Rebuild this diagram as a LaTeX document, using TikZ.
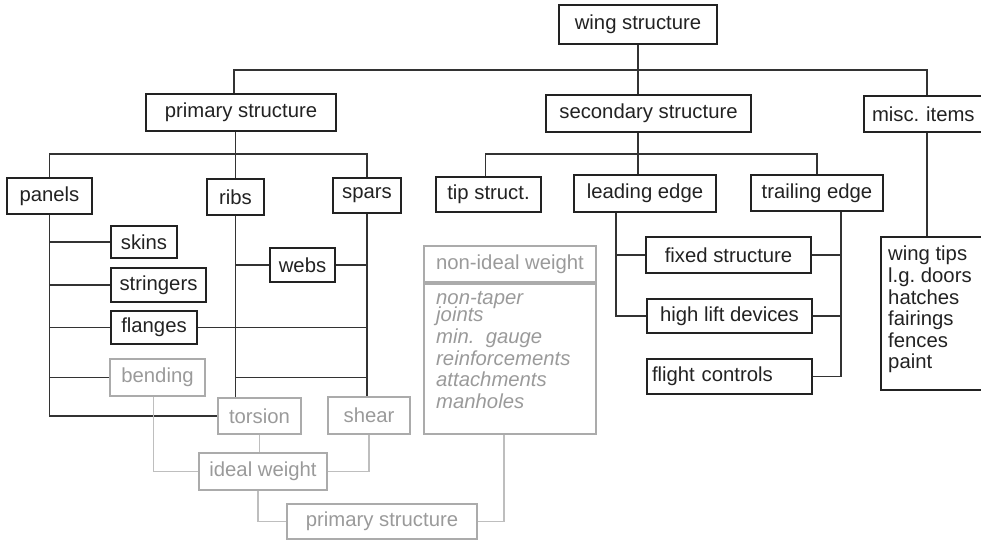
\documentclass[tikz,border=0pt]{standalone}
\usepackage{fontspec}
\setmainfont{Liberation Sans}
\usepackage{xcolor}
\usepackage{tikz}
\usetikzlibrary{positioning}
\definecolor{inkdark}{HTML}{222222}
\definecolor{linkdark}{HTML}{333333}
\definecolor{softgray}{HTML}{ABABAB}
\definecolor{softtext}{HTML}{9A9A9A}
\definecolor{softline}{HTML}{BEBEBE}
\frenchspacing

\tikzset{
    box/.style={draw=inkdark, line width=2pt, inner sep=0pt, minimum height=36pt, text=inkdark},
    softbox/.style={draw=softgray, line width=2pt, inner sep=0pt, minimum height=36pt, text=softtext},
    link/.style={draw=linkdark, line width=1.2pt},
    softlink/.style={draw=softline, line width=1.5pt},
}

\begin{document}
\begin{tikzpicture}[x=1pt, y=-1pt, font=\fontsize{20.3}{21.6}\selectfont]
    \useasboundingbox (0,0) rectangle (981,540);

    % upper tree
    \node[box, minimum width=158pt, minimum height=39pt] (wing) at (638,24.5) {wing structure};
    \node[box, minimum width=190pt, minimum height=37pt] (prim) at (241,112.5) {primary structure};
    \node[box, minimum width=205pt, minimum height=37pt] (sec) at (648.5,113.5) {secondary structure};
    \node[box, anchor=west, minimum width=140pt, text width=124pt, align=left] (misc) at (863,114) {misc. items};

    \node[box, minimum width=85pt] (panels) at (49.5,196) {panels};
    \node[box, minimum width=57pt] (ribs) at (235.5,197) {ribs};
    \node[box, minimum width=68pt, minimum height=35pt] (spars) at (367,195.5) {spars};
    \node[box, minimum width=105pt, minimum height=35pt] (tip) at (488.5,194.5) {tip struct.};
    \node[box, minimum width=142pt, minimum height=37pt] (lead) at (645,193.5) {leading edge};
    \node[box, minimum width=132pt] (trail) at (817,193) {trailing edge};

    \node[box, minimum width=66pt, minimum height=32pt] (skins) at (144,242) {skins};
    \node[box, minimum width=95pt, minimum height=34pt] (stringers) at (158.5,285) {stringers};
    \node[box, minimum width=86pt, minimum height=33pt] (flanges) at (154,327.5) {flanges};
    \node[box, minimum width=65pt, minimum height=34pt] (webs) at (302.5,265) {webs};

    \node[box, minimum width=165pt] (fixed) at (728.5,255) {fixed structure};
    \node[box, minimum width=165pt, minimum height=34pt] (hilift) at (729.5,316) {high lift devices};
    \node[box, minimum width=165pt, minimum height=35pt, text width=155pt, align=left] (flight) at (729.5,376.5) {flight controls};

    \node[box, anchor=north west, minimum width=140pt, minimum height=153pt] (items) at (880,236) {};
    \node[anchor=north west, inner sep=0pt, align=left, text=inkdark] (itemlist) at ([xshift=8pt, yshift=-10pt]items.north west)
        {wing tips\\l.g. doors\\hatches\\fairings\\fences\\paint};

    % weight estimate
    \node[softbox, minimum width=95pt, minimum height=37pt] (bending) at (157.5,377.5) {bending};
    \node[softbox, minimum width=83pt] (torsion) at (259.5,416) {torsion};
    \node[softbox, minimum width=82pt, minimum height=37pt] (shear) at (369,415.5) {shear};
    \node[softbox, minimum width=128pt, minimum height=37pt] (ideal) at (263,471.5) {ideal weight};
    \node[softbox, minimum width=190pt, minimum height=35pt] (primwt) at (382,521.5) {primary structure};

    \node[softbox, minimum width=172pt] (nonhead) at (510,264) {non-ideal weight};
    \node[softbox, below=0pt of nonhead, minimum width=172pt, minimum height=150pt] (nonbody) {};
    \node[anchor=north west, inner sep=0pt, align=left, text=softtext, font=\fontsize{20.3}{21.6}\selectfont\itshape] (nonlist)
        at ([xshift=13pt, yshift=-8pt]nonbody.north west)
        {non-taper\\[-4pt]joints\\min.~~gauge\\reinforcements\\attachments\\manholes};

    \coordinate (bus top) at (0,70);
    \coordinate (bus mid) at (0,154);
    \coordinate (misc drop) at (927,0);
    \coordinate (lead drop) at ([xshift=-29pt]lead.south);
    \coordinate (trail drop) at ([xshift=24pt]trail.south);

    \draw[link] (wing.south) -- (sec.north -| wing.south);
    \draw[link] ([xshift=-7pt]prim.north) |- (bus top -| misc drop) -- (misc.north -| misc drop);
    \draw[link] (misc.south -| misc drop) -- (items.north -| misc drop);
    \draw[link] (sec.south -| wing.south) -- (lead.north -| wing.south);
    \draw[link] ([xshift=-3pt]tip.north) |- (bus mid -| trail.north) -- (trail.north);
    \draw[link] (prim.south -| ribs.north) -- (ribs.north);
    \draw[link] (panels.north) |- (bus mid -| spars.north) -- (spars.north);

    \draw[link] (panels.south) |- (torsion.west);
    \foreach \leaf in {skins, stringers, flanges, bending}
        \draw[link] (\leaf.west) -- (\leaf.west -| panels.south);
    \draw[link] (ribs.south) -- (ribs.south |- torsion.north);
    \draw[link] (spars.south) -- (spars.south |- shear.north);
    \draw[link] (webs.west) -- (webs.west -| ribs.south);
    \foreach \leaf in {webs, flanges}
        \draw[link] (\leaf.east) -- (\leaf.east -| spars.south);
    \draw[link] (bending.east -| ribs.south) -- (bending.east -| spars.south);

    \draw[link] (lead drop) |- (hilift.west);
    \draw[link] (fixed.west) -- (fixed.west -| lead drop);
    \draw[link] (trail drop) |- (flight.east);
    \foreach \leaf in {fixed, hilift}
        \draw[link] (\leaf.east) -- (\leaf.east -| trail drop);

    \draw[softlink] ([xshift=-4pt]bending.south) |- (ideal.west);
    \draw[softlink] (torsion.south) -- (torsion.south |- ideal.north);
    \draw[softlink] (shear.south) |- (ideal.east);
    \draw[softlink] ([xshift=-5pt]ideal.south) |- (primwt.west);
    \draw[softlink] (primwt.east) -| ([xshift=-6pt]nonbody.south);
\end{tikzpicture}
\end{document}
